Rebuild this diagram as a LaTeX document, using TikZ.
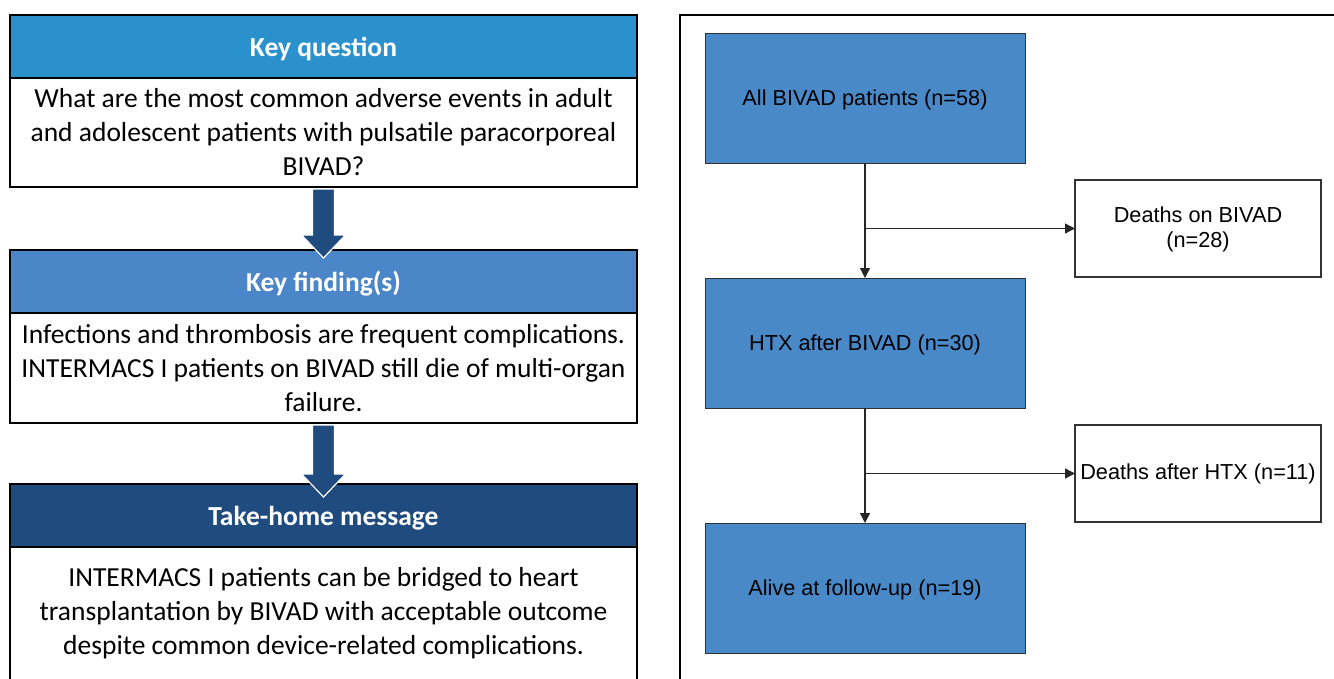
\documentclass[tikz,border=0pt]{standalone}
\usepackage{fontspec}
\setmainfont{Carlito}
\newfontfamily\flowfont{Liberation Sans}
\usetikzlibrary{calc,arrows.meta}

\definecolor{qblue}{HTML}{2B91CD}
\definecolor{fblue}{HTML}{4A86C8}
\definecolor{mblue}{HTML}{1F4B7F}
\definecolor{boxblue}{HTML}{4A89C8}
\definecolor{arrowblue}{HTML}{1F4B7F}

\tikzset{
  head/.style={draw=black, line width=2.2pt, minimum width=627, minimum height=63,
    anchor=north west, inner sep=0pt, outer sep=0pt, text=white, text depth=0pt,
    font=\fontsize{27.5}{32}\selectfont\bfseries},
  body/.style={draw=black, line width=2.2pt, fill=white, minimum width=627,
    anchor=north west, inner sep=0pt, outer sep=0pt, align=center,
    font=\fontsize{27.5}{34}\selectfont},
  flowbox/.style={draw=black!80, line width=0.8pt, fill=boxblue, minimum width=320,
    minimum height=130, anchor=north west, inner sep=0pt, outer sep=0pt, text depth=0pt,
    font=\flowfont\fontsize{21.7}{25}\selectfont},
  outcome/.style={draw=black!80, line width=1.2pt, fill=white, minimum width=246,
    minimum height=97, anchor=north west, inner sep=0pt, outer sep=0pt, align=center,
    font=\flowfont\fontsize{21.7}{25}\selectfont},
  conn/.style={draw=black!85, line width=1.3pt, -{Triangle[length=10pt,width=10pt]}},
  blockarrow/.style={fill=arrowblue, draw=white, line width=1.2pt, line join=miter}
}

% wide block arrow from a top point down to a tip point
\newcommand\blockarrow[2]{%
  \filldraw[blockarrow] ($(#1)+(-11,2)$) -- ($(#1)+(11,2)$) -- ($(#2)+(11,-23)$)
    -- ($(#2)+(22,-23)$) -- (#2) -- ($(#2)+(-22,-23)$) -- ($(#2)+(-11,-23)$) -- cycle;}

\begin{document}
\begin{tikzpicture}[x=1pt, y=-1pt]
\useasboundingbox (0,0) rectangle (1334,678);
\clip (0,0) rectangle (1334,678);
\fill[white] (0,0) rectangle (1334,678);

% ---------- summary column ----------
\node[head, fill=qblue] (qhead) at (10,15) {Key question};
\node[body, minimum height=109] (qbody) at (qhead.south west)
  {What are the most common adverse events in adult\\
   and adolescent patients with pulsatile paracorporeal\\
   BIVAD?};

\node[head, fill=fblue] (fhead) at (10,250) {Key finding(s)};
\node[body, minimum height=110] (fbody) at (fhead.south west)
  {Infections and thrombosis are frequent complications.\\
   INTERMACS I patients on BIVAD still die of multi-organ\\
   failure.};

\node[head, fill=mblue] (mhead) at (10,484) {Take-home message};
\node[body, minimum height=133] (mbody) at (mhead.south west)
  {INTERMACS I patients can be bridged to heart\\
   transplantation by BIVAD with acceptable outcome\\
   despite common device-related complications.};

\coordinate (tip1) at ($(fhead.north)+(0,8)$);
\coordinate (tip2) at ($(mhead.north)+(0,13)$);
\blockarrow{qbody.south}{tip1}
\blockarrow{fbody.south}{tip2}

% ---------- patient flow panel ----------
\draw[line width=2.4pt] (680,15) rectangle (1350,700);

\node[flowbox] (all) at (705,33) {All BIVAD patients (n=58)};
\node[flowbox] (htx) at (705,278) {HTX after BIVAD (n=30)};
\node[flowbox] (alive) at (705,523) {Alive at follow-up (n=19)};

\node[outcome] (d1) at (1075,180) {\strut Deaths on BIVAD\\(n=28)};
\node[outcome] (d2) at (1075,425) {\raisebox{-2pt}{Deaths after HTX (n=11)}};

\draw[conn] (all.south) -- (htx.north);
\draw[conn] (all.south |- d1.west) -- (d1.west);
\draw[conn] (htx.south) -- (alive.north);
\draw[conn] (htx.south |- d2.west) -- (d2.west);
\end{tikzpicture}
\end{document}
